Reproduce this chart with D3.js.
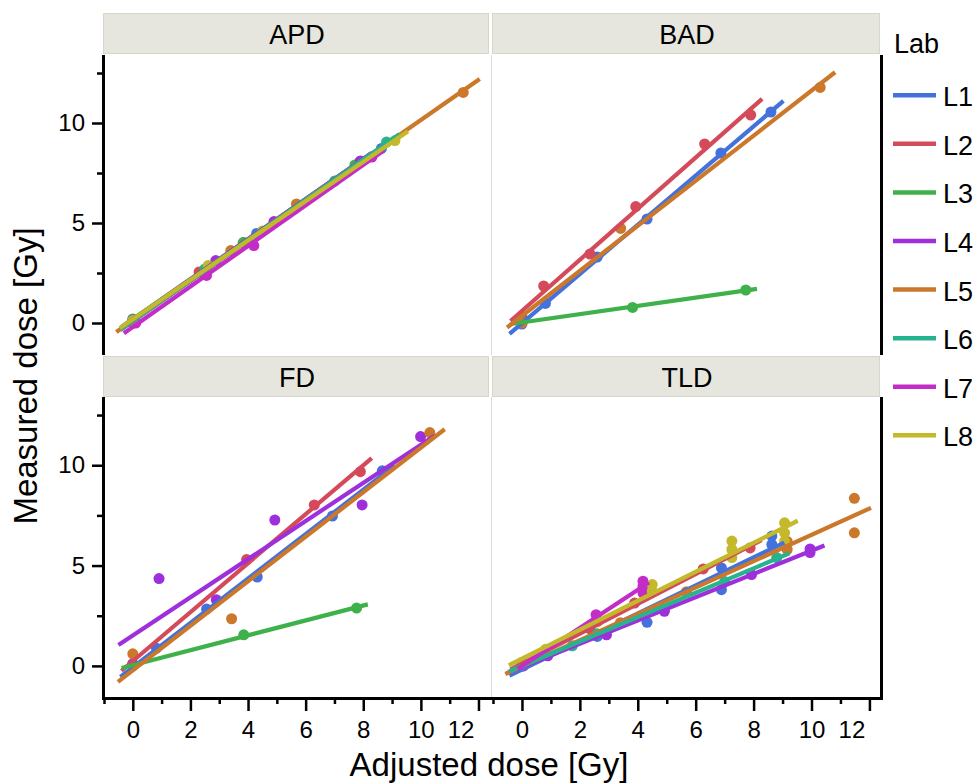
<!DOCTYPE html>
<html>
<head>
<meta charset="utf-8">
<script src="https://cdn.jsdelivr.net/npm/d3@7"></script>
<style>
  body { margin: 0; background: #fff; }
  text { font-family: "Liberation Sans", Arial, Helvetica, sans-serif; fill: #000; }
</style>
</head>
<body>
<script>
let labs = ["L1", "L2", "L3", "L4", "L5", "L6", "L7", "L8"];
let labColors = ["#4472dc", "#d44a5a", "#3fb14b", "#9e2fdb", "#cc782a", "#27b38d", "#c42cc8", "#c3b92b"];
let panelNames = ["APD", "BAD", "FD", "TLD"];
let xTicks = [0, 2, 4, 6, 8, 10, 12];
let xMinorTicks = [-1, 1, 3, 5, 7, 9, 11];
let yTicks = [0, 5, 10];
let yMinorTicks = [2.5, 7.5, 12.5];

// [lab, adjusted dose, measured dose]
let apdPoints = [
  ["L1", 0, 0.05], ["L1", 4.3, 4.48], ["L1", 8.63, 8.73],
  ["L2", 0, 0.05], ["L2", 2.3, 2.55], ["L2", 3.85, 4.02], ["L2", 7.88, 8.05],
  ["L3", 0, 0.2], ["L3", 3.83, 4.02], ["L3", 7.71, 7.9],
  ["L4", 0, 0.15], ["L4", 2.88, 3.12], ["L4", 4.9, 5.07], ["L4", 7.9, 8.1],
  ["L5", 0, 0.0], ["L5", 3.4, 3.62], ["L5", 5.68, 5.95], ["L5", 11.47, 11.53],
  ["L6", 0, 0.1], ["L6", 2.5, 2.7], ["L6", 7.01, 7.1], ["L6", 8.81, 9.05],
  ["L7", 0.1, 0.0], ["L7", 2.56, 2.38], ["L7", 4.2, 3.87], ["L7", 8.3, 8.3],
  ["L8", 0, 0.12], ["L8", 2.62, 2.88], ["L8", 4.5, 4.6], ["L8", 9.1, 9.12]
];

let badPoints = [
  ["L1", 0, -0.05], ["L1", 0.81, 0.98], ["L1", 2.6, 3.3], ["L1", 4.32, 5.2], ["L1", 6.87, 8.5], ["L1", 8.6, 10.55],
  ["L2", 0, 0.3], ["L2", 0.75, 1.85], ["L2", 2.35, 3.45], ["L2", 3.93, 5.82], ["L2", 6.31, 8.95], ["L2", 7.9, 10.4],
  ["L3", 0, 0.05], ["L3", 3.82, 0.78], ["L3", 7.73, 1.65],
  ["L5", 0, 0.0], ["L5", 3.41, 4.73], ["L5", 10.3, 11.78]
];

let fdPoints = [
  ["L1", 0, 0.0], ["L1", 0.82, 0.88], ["L1", 2.56, 2.83], ["L1", 4.32, 4.43], ["L1", 6.93, 7.47], ["L1", 8.66, 9.72],
  ["L2", 0, 0.1], ["L2", 3.95, 5.3], ["L2", 6.3, 8.02], ["L2", 7.9, 9.68],
  ["L3", 0, 0.0], ["L3", 3.85, 1.55], ["L3", 7.77, 2.88],
  ["L4", 0, 0.1], ["L4", 0.91, 4.35], ["L4", 2.9, 3.3], ["L4", 4.93, 7.27], ["L4", 7.96, 8.02], ["L4", 9.99, 11.43],
  ["L5", 0, 0.6], ["L5", 3.43, 2.35], ["L5", 10.31, 11.63]
];

let tldPoints = [
  ["L1", 0, 0.17], ["L1", 0.8, 0.62], ["L1", 2.6, 1.47], ["L1", 4.32, 2.17], ["L1", 6.89, 4.88], ["L1", 6.89, 3.8], ["L1", 8.63, 6.47], ["L1", 8.63, 6.05],
  ["L2", 0, 0.05], ["L2", 0.75, 0.7], ["L2", 2.35, 1.85], ["L2", 3.89, 3.13], ["L2", 6.26, 4.83], ["L2", 7.88, 5.88],
  ["L4", 0, 0.0], ["L4", 0.89, 0.5], ["L4", 2.92, 1.55], ["L4", 4.92, 2.72], ["L4", 7.93, 4.55], ["L4", 9.95, 5.83], ["L4", 9.95, 5.65],
  ["L5", 0, 0.0], ["L5", 3.4, 2.15], ["L5", 5.68, 3.7], ["L5", 9.16, 6.2], ["L5", 9.16, 5.8], ["L5", 11.48, 8.35], ["L5", 11.48, 6.63],
  ["L6", 0, 0.05], ["L6", 1.74, 1.0], ["L6", 2.6, 1.6], ["L6", 7.0, 4.2], ["L6", 8.8, 5.4],
  ["L7", 0.06, 0.0], ["L7", 2.56, 2.55], ["L7", 4.18, 4.22], ["L7", 4.18, 3.97], ["L7", 4.18, 3.63],
  ["L8", 0, 0.1], ["L8", 0.82, 0.83], ["L8", 2.61, 2.2], ["L8", 4.5, 4.05], ["L8", 4.5, 3.7], ["L8", 7.25, 6.22], ["L8", 7.25, 5.8], ["L8", 7.25, 5.4],
  ["L8", 9.07, 7.13], ["L8", 9.07, 6.63], ["L8", 9.07, 6.2]
];

let panelPoints = [apdPoints, badPoints, fdPoints, tldPoints];

let cols = [{ x0: 104, x1: 490 }, { x0: 493, x1: 881 }];
let rows = [{ strip: 13, y0: 55, y1: 355 }, { strip: 356, y0: 397, y1: 698 }];

let color = d3.scaleOrdinal().domain(labs).range(labColors);

// least squares line, drawn 5% past the data range on each side
function fitLine(pts) {
  let mx = d3.mean(pts, d => d[1]);
  let my = d3.mean(pts, d => d[2]);
  let sxx = d3.sum(pts, d => (d[1] - mx) * (d[1] - mx));
  let sxy = d3.sum(pts, d => (d[1] - mx) * (d[2] - my));
  let slope = sxx > 0 ? sxy / sxx : 0;
  let icpt = my - slope * mx;
  let lo = d3.min(pts, d => d[1]), hi = d3.max(pts, d => d[1]);
  let pad = (hi - lo) * 0.05;
  return [[lo - pad, icpt + slope * (lo - pad)], [hi + pad, icpt + slope * (hi + pad)]];
}

let svg = d3.select("body").append("svg")
  .attr("width", 974)
  .attr("height", 784)

panelNames.forEach(function (name, p) {
  let col = cols[p % 2];
  let row = rows[Math.floor(p / 2)];

  let x = d3.scaleLinear().domain([-1, 12.4]).range([col.x0, col.x1]);
  let y = d3.scaleLinear().domain([-1.6, 13.4]).range([row.y1, row.y0]);

  // strip header
  svg.append("rect")
    .attr("x", col.x0 - 0.5)
    .attr("y", row.strip + 0.5)
    .attr("width", col.x1 - col.x0 - 1)
    .attr("height", 40)
    .attr("fill", "#e6e6de")
    .attr("stroke", "#d6d6ca")
  svg.append("text")
    .attr("x", (col.x0 + col.x1) / 2)
    .attr("y", row.strip + 31)
    .attr("text-anchor", "middle")
    .attr("font-size", "27px")
    .text(name)

  svg.append("clipPath")
    .attr("id", "clip" + p)
    .append("rect")
    .attr("x", col.x0)
    .attr("y", row.y0)
    .attr("width", col.x1 - col.x0)
    .attr("height", row.y1 - row.y0)

  let g = svg.append("g").attr("clip-path", "url(#clip" + p + ")");
  let pts = panelPoints[p];

  labs.forEach(function (lab) {
    g.selectAll(null)
      .data(pts.filter(d => d[0] === lab))
      .enter()
      .append("circle")
      .attr("cx", d => x(d[1]))
      .attr("cy", d => y(d[2]))
      .attr("r", 5.5)
      .attr("fill", color(lab))
  });

  labs.forEach(function (lab) {
    let sub = pts.filter(d => d[0] === lab);
    if (sub.length < 2) return;
    g.append("path")
      .datum(fitLine(sub))
      .attr("d", d3.line().x(d => x(d[0])).y(d => y(d[1])))
      .attr("fill", "none")
      .attr("stroke", color(lab))
      .attr("stroke-width", 4.2)
  });

  if (p % 2 === 1) {
    // light separator and black right border
    svg.append("line")
      .attr("x1", col.x0 - 1.5).attr("x2", col.x0 - 1.5)
      .attr("y1", row.y0).attr("y2", row.y1)
      .attr("stroke", "#dcdcdc")
    svg.append("line")
      .attr("x1", col.x1 + 0.5).attr("x2", col.x1 + 0.5)
      .attr("y1", row.y0).attr("y2", row.y1 + (p === 3 ? 1.5 : 0))
      .attr("stroke", "#000")
      .attr("stroke-width", 3)
  }

  if (p % 2 === 0) {
    let yAxis = svg.append("g")
      .attr("transform", "translate(" + col.x0 + ",0)")
      .call(d3.axisLeft(y).tickValues(yTicks).tickSize(12).tickPadding(7).tickFormat(d3.format("d")))
    yAxis.select(".domain").remove();
    yAxis.selectAll("line").attr("stroke-width", 2.5);
    yAxis.selectAll("text").attr("font-size", "24px").attr("font-family", null);

    let yMinor = svg.append("g")
      .attr("transform", "translate(" + col.x0 + ",0)")
      .call(d3.axisLeft(y).tickValues(yMinorTicks).tickSize(7).tickFormat(""))
    yMinor.select(".domain").remove();
    yMinor.selectAll("line").attr("stroke-width", 2.5);

    svg.append("line")
      .attr("x1", col.x0 - 0.5).attr("x2", col.x0 - 0.5)
      .attr("y1", row.y0).attr("y2", row.y1 + (p === 2 ? 1.5 : 0))
      .attr("stroke", "#000")
      .attr("stroke-width", 3)
  }

  if (p >= 2) {
    let xAxis = svg.append("g")
      .attr("transform", "translate(0," + row.y1 + ")")
      .call(d3.axisBottom(x).tickValues(xTicks).tickSize(13).tickPadding(10).tickFormat(d3.format("d")))
    xAxis.select(".domain").remove();
    xAxis.selectAll("line").attr("stroke-width", 2.5);
    xAxis.selectAll("text").attr("font-size", "24px").attr("font-family", null)
      .attr("dx", d => d === 12 ? -18 : 0);

    let xMinor = svg.append("g")
      .attr("transform", "translate(0," + row.y1 + ")")
      .call(d3.axisBottom(x).tickValues(xMinorTicks).tickSize(6).tickFormat(""))
    xMinor.select(".domain").remove();
    xMinor.selectAll("line").attr("stroke-width", 2.5);

    svg.append("line")
      .attr("x1", col.x0 - 2).attr("x2", col.x1 + 2)
      .attr("y1", row.y1 + 0.5).attr("y2", row.y1 + 0.5)
      .attr("stroke", "#000")
      .attr("stroke-width", 3)
  }
});

// axis titles
svg.append("text")
  .attr("x", 489)
  .attr("y", 776)
  .attr("text-anchor", "middle")
  .attr("font-size", "33px")
  .text("Adjusted dose [Gy]")

svg.append("text")
  .attr("transform", "translate(37,376) rotate(-90)")
  .attr("text-anchor", "middle")
  .attr("font-size", "33px")
  .text("Measured dose [Gy]")

// legend
let legend = svg.append("g").attr("transform", "translate(893,0)");
legend.append("text")
  .attr("x", 1)
  .attr("y", 53)
  .attr("font-size", "27px")
  .text("Lab")

let item = legend.selectAll(".item")
  .data(labs)
  .enter()
  .append("g")
  .attr("class", "item")
  .attr("transform", (d, i) => "translate(0," + (95.3 + i * 48.57) + ")")

item.append("line")
  .attr("x1", 0).attr("x2", 43)
  .attr("stroke", d => color(d))
  .attr("stroke-width", 4.5)

item.append("text")
  .attr("x", 50)
  .attr("y", 11)
  .attr("font-size", "27px")
  .text(d => d)
</script>
</body>
</html>
